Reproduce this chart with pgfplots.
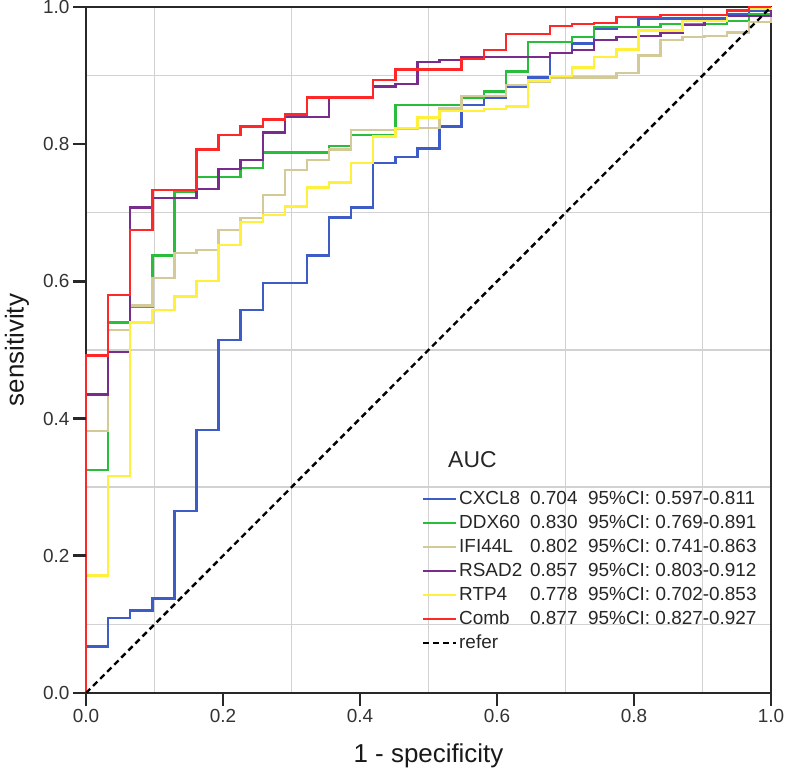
\documentclass[border=0pt]{standalone}
\usepackage{pgfplots}
\pgfplotsset{compat=1.18}
\usepackage{pgfplotstable}
\usepackage{fontspec}
\setmainfont{Liberation Sans}
\definecolor{cblue}{RGB}{62,92,200}
\definecolor{cgreen}{RGB}{40,190,60}
\definecolor{ctan}{RGB}{212,202,152}
\definecolor{cpurple}{RGB}{120,45,140}
\definecolor{cyellow}{RGB}{255,240,60}
\definecolor{cred}{RGB}{255,40,40}
\definecolor{cgrid}{RGB}{210,210,210}
\definecolor{caxis}{RGB}{40,40,40}
\pgfplotstableread{
x      cxcl8 ddx60 ifi44l rsad2 rtp4  comb
0      0     0     0      0     0     0
0      0.068 0.325 0.382  0.435 0.171 0.492
0.0323 0.109 0.540 0.529  0.497 0.316 0.580
0.0645 0.120 0.563 0.565  0.708 0.540 0.675
0.0968 0.138 0.638 0.605  0.722 0.558 0.733
0.1290 0.265 0.730 0.641  0.722 0.578 0.733
0.1613 0.383 0.752 0.646  0.735 0.601 0.792
0.1935 0.515 0.752 0.675  0.764 0.653 0.813
0.2258 0.558 0.765 0.692  0.777 0.687 0.826
0.2581 0.598 0.788 0.726  0.817 0.697 0.836
0.2903 0.598 0.788 0.762  0.840 0.709 0.843
0.3226 0.638 0.788 0.777  0.840 0.737 0.868
0.3548 0.693 0.797 0.792  0.867 0.744 0.868
0.3871 0.708 0.813 0.821  0.867 0.773 0.868
0.4194 0.773 0.813 0.821  0.884 0.811 0.894
0.4516 0.781 0.857 0.822  0.888 0.824 0.909
0.4839 0.794 0.857 0.824  0.920 0.839 0.909
0.5161 0.826 0.857 0.852  0.923 0.848 0.909
0.5484 0.857 0.868 0.870  0.927 0.848 0.924
0.5806 0.868 0.877 0.870  0.927 0.851 0.937
0.6129 0.883 0.906 0.886  0.927 0.855 0.961
0.6452 0.897 0.949 0.891  0.927 0.893 0.961
0.6774 0.933 0.949 0.897  0.933 0.899 0.972
0.7097 0.947 0.956 0.897  0.937 0.912 0.975
0.7419 0.968 0.971 0.897  0.952 0.927 0.977
0.7742 0.971 0.971 0.904  0.956 0.938 0.985
0.8065 0.983 0.971 0.929  0.958 0.966 0.985
0.8387 0.983 0.975 0.952  0.963 0.966 0.988
0.8710 0.983 0.975 0.956  0.974 0.980 0.988
0.9032 0.983 0.975 0.958  0.980 0.980 0.988
0.9355 0.990 0.980 0.963  0.987 0.996 0.995
0.9677 0.995 0.990 0.978  0.987 0.998 1.000
1      1     1     1      1     1     1
}\roc
\newcommand{\lgd}[3]{\makebox[71bp][l]{#1}\makebox[58bp][l]{#2}95\%CI: #3}
\begin{document}
\begin{tikzpicture}
\begin{axis}[
  width=685bp, height=686bp, scale only axis,
  xmin=0, xmax=1, ymin=0, ymax=1,
  xtick={0,0.2,0.4,0.6,0.8,1},
  ytick={0,0.2,0.4,0.6,0.8,1},
  minor xtick={0.1,0.3,0.5,0.7,0.9},
  minor ytick={0.1,0.3,0.5,0.7,0.9},
  tick pos=left,
  tick align=outside,
  major tick length=13bp, minor tick length=0pt,
  grid=minor,
  minor grid style={cgrid, line width=1.4bp},
  axis line style={caxis, line width=2bp},
  tick style={caxis, line width=2.5bp},
  /pgf/number format/assume math mode=true,
  /pgf/number format/.cd, fixed, fixed zerofill, precision=1,
  /pgfplots/.cd,
  ticklabel style={font=\fontsize{19}{22}\selectfont, text=black!80},
  xlabel={1 - specificity},
  ylabel={sensitivity},
  label style={font=\fontsize{26}{30}\selectfont, text=black!90},
  xlabel style={at={(axis description cs:0.5,-0.0918)}, anchor=center},
  ylabel style={at={(axis description cs:-0.1007,0.5)}, anchor=center},
  legend image code/.code={\draw[#1, line width=2bp] (0bp,0bp) -- (33bp,0bp);},
  legend cell align=left,
  legend style={at={(axis cs:0.4905,0.3003)}, anchor=north west,
    draw=none, fill=none, inner sep=0pt, row sep=0pt,
    font=\fontsize{19}{22}\selectfont, text=black!85,
    nodes={inner sep=2bp, text height=15bp, text depth=5bp}},
  clip=false,
]
\addplot[cblue, line width=2.4bp, const plot] table[x=x, y=cxcl8] {\roc};
\addlegendentry{\lgd{CXCL8}{0.704}{0.597-0.811}}
\addplot[cgreen, line width=2.4bp, const plot] table[x=x, y=ddx60] {\roc};
\addlegendentry{\lgd{DDX60}{0.830}{0.769-0.891}}
\addplot[ctan, line width=2.4bp, const plot] table[x=x, y=ifi44l] {\roc};
\addlegendentry{\lgd{IFI44L}{0.802}{0.741-0.863}}
\addplot[cpurple, line width=2.4bp, const plot] table[x=x, y=rsad2] {\roc};
\addlegendentry{\lgd{RSAD2}{0.857}{0.803-0.912}}
\addplot[cyellow, line width=2.4bp, const plot] table[x=x, y=rtp4] {\roc};
\addlegendentry{\lgd{RTP4}{0.778}{0.702-0.853}}
\addplot[cred, line width=2.4bp, const plot] table[x=x, y=comb] {\roc};
\addlegendentry{\lgd{Comb}{0.877}{0.827-0.927}}
\addplot[black, line width=2.4bp, dash pattern=on 6bp off 4bp] coordinates {(0,0) (1,1)};
\addlegendentry{refer}
\node[anchor=west, inner sep=0pt, text=black!85, font=\fontsize{23}{26}\selectfont] at (axis cs:0.5285,0.3397) {AUC};
\end{axis}
\foreach \i in {0,1,2,3,4,5} {
  \fill[caxis] ([xshift=\i*137bp-1.3bp]current axis.south west) rectangle ++(2.6bp,-13bp);
  \fill[caxis] ([yshift=\i*137.2bp-1.3bp]current axis.south west) rectangle ++(-13bp,2.6bp);
}
\pgfresetboundingbox
\path ([shift={(-86bp,-81bp)}]current axis.south west) rectangle ([shift={(16bp,7bp)}]current axis.north east);
\end{tikzpicture}
\end{document}
